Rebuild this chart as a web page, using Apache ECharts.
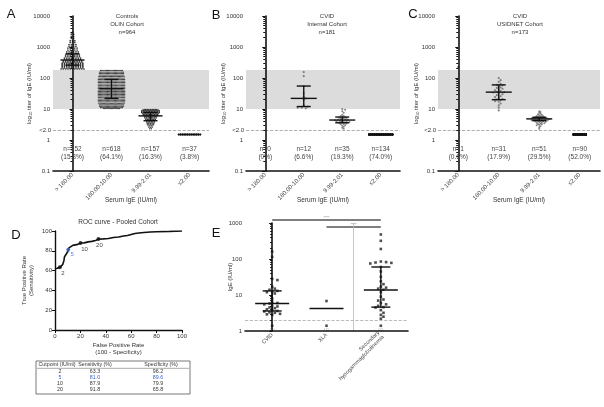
<!DOCTYPE html>
<html>
<head>
<meta charset="utf-8">
<script src="https://cdn.jsdelivr.net/npm/echarts@6/dist/echarts.min.js"></script>
<style>
html, body { margin: 0; padding: 0; background: #fff; }
#main { width: 604px; height: 407px; }
</style>
</head>
<body>
<div id="main"></div>
<script>
/*----- data -----*/
var igeGroups = ['> 180.00', '180.00-10.00', '9.99-2.01', '\u22642.00'];
var undetValue = 1.5;   // where values below 2.0 are plotted

// A: Controls, OLIN cohort (dense groups read as rows: level + number of dots)
var olinHighLevels = [3000, 2600, 2200, 1900, 1600, 1400, 1200, 1050, 920, 800, 700, 620, 550, 490, 440, 400, 360, 330, 300, 275, 250, 230, 210, 195];
var olinHighCounts = [1, 2, 2, 2, 3, 3, 4, 4, 5, 5, 6, 6, 7, 7, 8, 8, 9, 9, 10, 10, 10, 10, 10, 11];
var olinMidLevels = [175, 155, 140, 125, 112, 100, 90, 80, 72, 64, 57, 51, 46, 41, 37, 33, 29.5, 26.5, 23.5, 21, 19, 17, 15, 13.5, 12, 11, 10.3];
var olinMidCounts = [20, 22, 22, 22, 23, 23, 24, 24, 24, 24, 24, 24, 24, 24, 24, 24, 24, 24, 24, 24, 24, 24, 23, 22, 22, 20, 15];
var olinLowLevels = [9.7, 9.2, 8.7, 8.2, 7.7, 7.2, 6.7, 6.3, 5.9, 5.5, 5.1, 4.7, 4.4, 4.1, 3.8, 3.5, 3.2, 2.9, 2.6, 2.3];
var olinLowCounts = [9, 11, 12, 12, 12, 11, 10, 10, 9, 8, 8, 7, 7, 6, 6, 5, 5, 4, 3, 2];
var olinUndet = 37;
var olinMedian = [380, 45, 6, null];
var olinQ1 = [260, 22, 4.2, null];
var olinQ3 = [600, 90, 7.8, null];
var olinN = ['n=152', 'n=618', 'n=157', 'n=37'];
var olinPct = ['(15.8%)', '(64.1%)', '(16.3%)', '(3.8%)'];

// B: CVID internal cohort
var internalMid = [155, 115, 55, 32, 25, 22, 20, 13, 12, 11, 11, 10.5];
var internalLow = [10, 9.5, 8.5, 7.5, 6.5, 6, 6, 5.5, 5.5, 5.2, 5, 5, 4.8, 4.6, 4.5, 4.4, 4.4, 4.3, 4.2, 4.1,
                   4, 4, 3.9, 3.8, 3.7, 3.6, 3.5, 3.4, 3.3, 3.2, 3, 2.9, 2.7, 2.5, 2.3];
var internalUndet = 134;
var internalMedian = [null, 22, 4.4, null];
var internalQ1 = [null, 12, 3.6, null];
var internalQ3 = [null, 55, 5.5, null];
var internalN = ['n=0', 'n=12', 'n=35', 'n=134'];
var internalPct = ['(0%)', '(6.6%)', '(19.3%)', '(74.0%)'];

// C: CVID USIDNET cohort
var usidnetHigh = [225];
var usidnetMid = [100, 85, 75, 65, 60, 58, 55, 50, 48, 45, 42, 40, 38, 36, 35, 34, 32, 30, 28, 26,
                  24, 22, 21, 20, 19, 18, 17, 15, 13, 11, 9];
var usidnetLow = [8.5, 8, 7.5, 7, 6.8, 6.5, 6.2, 6, 6, 5.8, 5.6, 5.5, 5.4, 5.3, 5.2, 5.1, 5, 5, 5, 4.9,
                  4.9, 4.8, 4.8, 4.7, 4.7, 4.6, 4.6, 4.5, 4.5, 4.4, 4.4, 4.3, 4.3, 4.2, 4.2, 4.1, 4, 4, 3.9, 3.8,
                  3.7, 3.6, 3.5, 3.4, 3.3, 3.2, 3.1, 3, 2.8, 2.6, 2.3];
var usidnetUndet = 90;
var usidnetMedian = [null, 35, 4.8, null];
var usidnetQ1 = [null, 20, 4.2, null];
var usidnetQ3 = [null, 60, 5.4, null];
var usidnetN = ['n=1', 'n=31', 'n=51', 'n=90'];
var usidnetPct = ['(0.6%)', '(17.9%)', '(29.5%)', '(52.0%)'];

// D: ROC curve, pooled cohort
var rocFpr = [0, 1, 2, 3, 3.8, 5, 6, 7, 7.5, 8, 9, 10, 10.4, 11, 12, 14, 16, 18, 20.1, 23, 26, 29, 32, 34.2, 38,
              42, 46, 50, 54, 57, 60, 63, 66, 70, 75, 80, 90, 100];
var rocTpr = [61.5, 62, 62.5, 63, 63.3, 64, 66, 70, 74, 75, 76, 79, 81, 83, 85, 85.5, 86, 86.5, 87.9, 88, 89, 89.5, 90.5, 91.8, 92,
              92.5, 93.5, 94, 95, 95.5, 96.5, 97.5, 98, 98.5, 99, 99.3, 99.6, 100];
var cutpoints = ['2', '5', '10', '20'];
var cutSens = [63.3, 81.0, 87.9, 91.8];
var cutSpec = [96.2, 89.6, 79.9, 65.8];
var cutHighlight = 1;

// E: IgE by diagnosis
var eGroups = ['CVID', 'XLA', 'Secondary\nhypogammaglobulinemia'];
var eCvid = [160, 115, 28, 26, 17, 15, 14, 13, 12.5, 12, 11, 8, 6.5, 6, 5.8, 5.5, 5, 4.8, 4.5, 4.3,
             4, 3.8, 3.6, 3.5, 3.3, 3.2, 3, 2.9, 2.8, 1.4];
var eXla = [6.8, 1.4];
var eSecondary = [480, 320, 190, 85, 82, 80, 78, 75, 60, 45, 32, 24, 20, 17, 16, 15, 14, 12, 9, 7.5,
                  7, 6, 5.5, 5, 4.6, 4.5, 3.8, 3.2, 2.8, 2.5, 2.2, 1.4];
var eMedian = [5.8, 4.2, 13.8];
var eQ1 = [3.6, null, 4.6];
var eQ3 = [13, null, 60];
var sigPairs = [[0, 2], [1, 2]];
var sigLabels = ['****', '****'];

/*----- layout -----*/
var FONT = 'Liberation Sans, Arial, sans-serif';
var grids = [
	{left: 53, top: 16, width: 156, height: 155},
	{left: 246, top: 16, width: 154, height: 155},
	{left: 438, top: 16, width: 162, height: 155},
	{left: 55, top: 231, width: 127, height: 99},
	{left: 245, top: 223, width: 163, height: 108}
];
var bandA = grids[0].width / 4, bandB = grids[1].width / 4, bandC = grids[2].width / 4, bandE = grids[4].width / 3;
var decadeAC = grids[0].height / 5, decadeE = grids[4].height / 3;

// rows of dots for very dense groups
function rowDots(idx, levels, counts, stepPx, bandPx, maxPerRow){
	var pts = [];
	for(var i = 0; i < levels.length; i++){
		var left = counts[i];
		while(left > 0){
			var n = Math.min(left, maxPerRow);
			for(var j = 0; j < n; j++){
				pts.push([idx + (j - (n - 1) / 2) * stepPx / bandPx, levels[i]]);
			}
			left -= n;
		}
	}
	return pts;
}
// simple beeswarm for small groups
function swarm(idx, values, pxPerDecade, bandPx, gap){
	var placed = [], pts = [];
	var sorted = values.slice().sort(function(a, b){ return b - a; });
	sorted.forEach(function(v){
		var y = Math.log10(v) * pxPerDecade;
		for(var k = 0; k < 60; k++){
			var off = (k % 2 ? 1 : -1) * Math.ceil(k / 2) * gap * 0.85;
			var ok = placed.every(function(p){
				var dx = p[0] - off, dy = p[1] - y;
				return dx * dx + dy * dy >= gap * gap;
			});
			if(ok){
				placed.push([off, y]);
				pts.push([idx + off / bandPx, v]);
				break;
			}
		}
	});
	return pts;
}

function catAxis(grid, data, name, rot, fs){
	return {
		type: 'category', gridIndex: grid, data: data, z: 5,
		axisLine: {lineStyle: {color: '#111', width: 1.6}},
		axisTick: {alignWithLabel: true, length: 3, lineStyle: {color: '#111'}},
		axisLabel: {rotate: rot, fontSize: fs, color: '#444', margin: 3, interval: 0, lineHeight: fs + 1},
		splitLine: {show: false},
		name: name, nameLocation: 'middle', nameGap: 26, nameMoveOverlap: false,
		nameTextStyle: {fontSize: 6.5, color: '#333'}
	};
}
function hiddenX(grid, n){
	return {type: 'value', gridIndex: grid, min: -0.5, max: n - 0.5, show: false, splitLine: {show: false}};
}
function logY(grid, min, max, name, gap){
	return {
		type: 'log', logBase: 10, gridIndex: grid, min: min, max: max, z: 5,
		axisLine: {show: true, lineStyle: {color: '#111', width: 1.6}},
		axisTick: {show: true, length: 3, lineStyle: {color: '#111'}},
		minorTick: {show: true, splitNumber: 9, length: 2, lineStyle: {color: '#111'}},
		axisLabel: {fontSize: 6, color: '#333', margin: 3, formatter: function(v){ return '' + v; }},
		splitLine: {show: false},
		name: name, nameLocation: 'middle', nameGap: gap, nameMoveOverlap: false,
		nameTextStyle: {fontSize: 6, color: '#333', rich: {s: {fontSize: 4, padding: [4, 0, 0, 0]}}}
	};
}
var logName = 'log{s|10} titer of IgE (IU/ml)';

function dots(xi, yi, data, size, color, symbol){
	return {
		type: 'scatter', xAxisIndex: xi, yAxisIndex: yi, data: data, silent: true, z: 3,
		symbol: symbol || 'circle', symbolSize: size, itemStyle: {color: color}
	};
}
function bandSeries(xi, yi){
	return {
		type: 'line', xAxisIndex: xi, yAxisIndex: yi, data: [], z: 1, silent: true,
		markLine: {
			silent: true, symbol: 'none',
			lineStyle: {color: '#999', type: 'dashed', width: 0.8},
			label: {show: true, position: 'start', formatter: '<2.0', fontSize: 6, color: '#333', distance: 2},
			data: [{yAxis: 2}]
		},
		markArea: {silent: true, itemStyle: {color: '#dcdcdc'}, label: {show: false}, data: [[{yAxis: 10}, {yAxis: 180}]]}
	};
}
function medianSeries(xi, yi, med, q1, q3, wMed, wIqr){
	var data = [];
	for(var i = 0; i < med.length; i++){
		if(med[i] == null) continue;
		var hasQ = q1[i] != null;
		data.push([i, med[i], hasQ ? q1[i] : med[i], hasQ ? q3[i] : med[i], hasQ ? 1 : 0]);
	}
	return {
		type: 'custom', xAxisIndex: xi, yAxisIndex: yi, z: 4, silent: true, data: data,
		renderItem: function(params, api){
			var x = api.value(0);
			var m = api.coord([x, api.value(1)]);
			var lo = api.coord([x, api.value(2)]);
			var hi = api.coord([x, api.value(3)]);
			var st = {stroke: '#111', lineWidth: 1.4};
			var kids = [{type: 'line', shape: {x1: m[0] - wMed, y1: m[1], x2: m[0] + wMed, y2: m[1]}, style: st}];
			if(api.value(4)){
				kids.push({type: 'line', shape: {x1: lo[0] - wIqr, y1: lo[1], x2: lo[0] + wIqr, y2: lo[1]}, style: st});
				kids.push({type: 'line', shape: {x1: hi[0] - wIqr, y1: hi[1], x2: hi[0] + wIqr, y2: hi[1]}, style: st});
				kids.push({type: 'line', shape: {x1: m[0], y1: lo[1], x2: m[0], y2: hi[1]}, style: st});
			}
			return {type: 'group', children: kids};
		}
	};
}
function ldData(points){
	return points.map(function(p){
		if(p[1] < 2){
			return {value: p, label: {show: true, position: 'bottom', distance: 0.5, formatter: 'LD', fontSize: 3.5, color: '#888'}};
		}
		return p;
	});
}

/*----- series -----*/
var series = [];
// A
series.push(bandSeries(1, 0));
series.push(dots(1, 0, rowDots(0, olinHighLevels, olinHighCounts, 2.3, bandA, 12), 1.7, '#111'));
series.push(dots(1, 0, rowDots(1, olinMidLevels, olinMidCounts, 1.15, bandA, 24), 1.2, '#111'));
series.push(dots(1, 0, rowDots(2, olinLowLevels, olinLowCounts, 1.6, bandA, 12), 1.5, '#111'));
series.push(dots(1, 0, rowDots(3, [undetValue], [olinUndet], 1.8, bandA, 13), 2, '#111'));
series.push(medianSeries(1, 0, olinMedian, olinQ1, olinQ3, 12, 7));
// B
series.push(bandSeries(3, 1));
series.push(dots(3, 1, swarm(1, internalMid, decadeAC, bandB, 2.4), 2.2, '#666'));
series.push(dots(3, 1, swarm(2, internalLow, decadeAC, bandB, 1.7), 2, '#666'));
series.push(dots(3, 1, rowDots(3, [undetValue], [internalUndet], 1.8, bandB, 14), 2, '#111'));
series.push(medianSeries(3, 1, internalMedian, internalQ1, internalQ3, 13, 7));
// C
series.push(bandSeries(5, 2));
series.push(dots(5, 2, swarm(0, usidnetHigh, decadeAC, bandC, 2.4), 2.2, '#444'));
series.push(dots(5, 2, swarm(1, usidnetMid, decadeAC, bandC, 2.2), 2.2, '#666'));
series.push(dots(5, 2, swarm(2, usidnetLow, decadeAC, bandC, 1.5), 2, '#666'));
series.push(dots(5, 2, rowDots(3, [undetValue], [usidnetUndet], 1.8, bandC, 8), 2, '#111'));
series.push(medianSeries(5, 2, usidnetMedian, usidnetQ1, usidnetQ3, 13, 7));
// D
var rocData = rocFpr.map(function(x, i){ return [x, rocTpr[i]]; });
series.push({
	type: 'line', xAxisIndex: 6, yAxisIndex: 3, data: rocData, showSymbol: false, silent: true,
	lineStyle: {color: '#111', width: 1.6}
});
var cutLabelOffsets = [[3, 0], [4, -1], [4, 0], [1, 0]];
series.push({
	type: 'scatter', xAxisIndex: 6, yAxisIndex: 3, silent: true, z: 4, symbolSize: 4,
	data: cutpoints.map(function(c, i){
		var col = i === cutHighlight ? '#3a5fcd' : '#111';
		return {
			value: [+(100 - cutSpec[i]).toFixed(1), cutSens[i]],
			itemStyle: {color: col},
			label: {show: true, position: 'bottom', offset: cutLabelOffsets[i], formatter: c, fontSize: 6, color: col, distance: 1}
		};
	})
});
// E
series.push({
	type: 'line', xAxisIndex: 8, yAxisIndex: 4, data: [], z: 1, silent: true,
	markLine: {
		silent: true, symbol: 'none', label: {show: false},
		data: [
			{yAxis: 2, lineStyle: {color: '#aaa', type: 'dashed', width: 0.8}},
			{xAxis: 1.5, lineStyle: {color: '#bbb', type: 'solid', width: 0.8}}
		]
	}
});
series.push(dots(8, 4, ldData(swarm(0, eCvid, decadeE, bandE, 3.1)), 2.6, '#222', 'rect'));
series.push(dots(8, 4, ldData(swarm(1, eXla, decadeE, bandE, 3.1)), 2.6, '#222', 'rect'));
series.push(dots(8, 4, ldData(swarm(2, eSecondary, decadeE, bandE, 3.1)), 2.6, '#222', 'rect'));
series.push(medianSeries(8, 4, eMedian, eQ1, eQ3, 17, 9.5));

/*----- axes -----*/
var xAxis = [
	catAxis(0, igeGroups, 'Serum IgE (IU/ml)', 45, 6), hiddenX(0, 4),
	catAxis(1, igeGroups, 'Serum IgE (IU/ml)', 45, 6), hiddenX(1, 4),
	catAxis(2, igeGroups, 'Serum IgE (IU/ml)', 45, 6), hiddenX(2, 4),
	{
		type: 'value', gridIndex: 3, min: 0, max: 100, interval: 20, z: 5,
		axisLine: {lineStyle: {color: '#111', width: 1.4}},
		axisTick: {show: true, length: 3, lineStyle: {color: '#111'}},
		axisLabel: {fontSize: 6, color: '#333', margin: 3},
		splitLine: {show: false},
		name: 'False Positive Rate\n(100 - Specificity)', nameLocation: 'middle', nameGap: 12, nameMoveOverlap: false,
		nameTextStyle: {fontSize: 6, color: '#333', lineHeight: 7}
	},
	catAxis(4, eGroups, '', 45, 5.5), hiddenX(4, 3)
];
var yAxis = [
	logY(0, 0.1, 10000, logName, 20),
	logY(1, 0.1, 10000, logName, 19),
	logY(2, 0.1, 10000, logName, 18),
	{
		type: 'value', gridIndex: 3, min: 0, max: 100, interval: 20, z: 5,
		axisLine: {show: true, lineStyle: {color: '#111', width: 1.4}},
		axisTick: {show: true, length: 3, lineStyle: {color: '#111'}},
		axisLabel: {fontSize: 6, color: '#333', margin: 3},
		splitLine: {show: false},
		name: 'True Positive Rate\n(Sensitivity)', nameLocation: 'middle', nameGap: 20, nameMoveOverlap: false,
		nameTextStyle: {fontSize: 6, color: '#333', lineHeight: 7}
	},
	logY(4, 1, 1000, 'IgE (IU/ml)', 12)
];

var chart = echarts.init(document.getElementById('main'));
chart.setOption({
	animation: false,
	textStyle: {fontFamily: FONT},
	grid: grids.map(function(g){ return {left: g.left, top: g.top, width: g.width, height: g.height, containLabel: false}; }),
	xAxis: xAxis,
	yAxis: yAxis,
	series: series
});

/*----- texts, table, significance bars -----*/
function txt(x, y, s, size, color, align, va){
	return {type: 'text', x: x, y: y, silent: true, z: 100, zlevel: 1,
		style: {text: s, fontSize: size, fontFamily: FONT, fill: color || '#333', align: align || 'center', verticalAlign: va || 'middle', lineHeight: size + 2}};
}
var graphics = [
	txt(11, 14, 'A', 13, '#111'), txt(216, 15, 'B', 13, '#111'), txt(413, 14, 'C', 13, '#111'),
	txt(16, 235, 'D', 13, '#111'), txt(216, 233, 'E', 13, '#111'),
	txt(127, 24, 'Controls\nOLIN Cohort\nn=964', 6),
	txt(327, 24, 'CVID\nInternal Cohort\nn=181', 6),
	txt(520, 24, 'CVID\nUSIDNET Cohort\nn=173', 6),
	txt(118, 222, 'ROC curve - Pooled Cohort', 6.5)
];
// group sizes under each cohort
[[1, 0, olinN, olinPct], [3, 1, internalN, internalPct], [5, 2, usidnetN, usidnetPct]].forEach(function(p){
	for(var i = 0; i < p[2].length; i++){
		var pt = chart.convertToPixel({xAxisIndex: p[0], yAxisIndex: p[1]}, [i, 0.38]);
		graphics.push(txt(pt[0], pt[1] - 4, p[2][i], 6.5, '#444'));
		graphics.push(txt(pt[0], pt[1] + 4, p[3][i], 6.5, '#444'));
	}
});
// table under the ROC curve
var tLeft = 36, tRight = 190, tTop = 361, rowH = 6;
var colX = [57, 95, 161];
graphics.push({type: 'rect', shape: {x: tLeft, y: tTop, width: tRight - tLeft, height: rowH * 5 + 3}, style: {fill: 'none', stroke: '#555', lineWidth: 0.8}, silent: true});
graphics.push(txt(colX[0], tTop + 4, 'Cutpoint (IU/ml)', 5.3));
graphics.push(txt(colX[1], tTop + 4, 'Sensitivity (%)', 5.3));
graphics.push(txt(colX[2], tTop + 4, 'Specificity (%)', 5.3));
graphics.push({type: 'line', shape: {x1: tLeft + 1, y1: tTop + 7.3, x2: tRight - 1, y2: tTop + 7.3}, style: {stroke: '#555', lineWidth: 0.5}, silent: true});
for(var i = 0; i < cutpoints.length; i++){
	var ty = tTop + 4 + rowH * (i + 1) + 0.5;
	var col = i === cutHighlight ? '#3a5fcd' : '#333';
	graphics.push(txt(colX[0] + 3, ty, cutpoints[i], 5.3, col));
	graphics.push(txt(colX[1], ty, cutSens[i].toFixed(1), 5.3, col));
	graphics.push(txt(colX[2] - 3, ty, cutSpec[i].toFixed(1), 5.3, col));
}
var sigBarOffsets = [-3, 4];
sigPairs.forEach(function(pair, k){
	var a = chart.convertToPixel({xAxisIndex: 8, yAxisIndex: 4}, [pair[0], 1]);
	var b = chart.convertToPixel({xAxisIndex: 8, yAxisIndex: 4}, [pair[1], 1]);
	var y = grids[4].top + sigBarOffsets[k];
	graphics.push({type: 'line', shape: {x1: a[0], y1: y, x2: b[0], y2: y}, style: {stroke: '#555', lineWidth: 1.4}, silent: true});
	graphics.push(txt((a[0] + b[0]) / 2, y - 2.5, sigLabels[k], 4, '#888'));
});
chart.setOption({graphic: graphics});
</script>
</body>
</html>
